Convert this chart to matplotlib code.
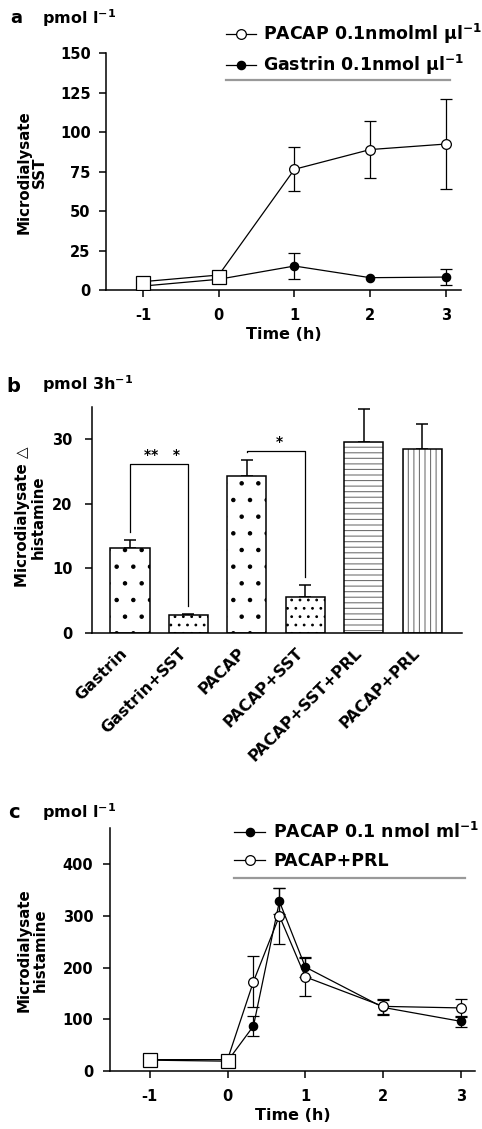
import matplotlib
matplotlib.use('Agg')
import matplotlib.pyplot as plt
from matplotlib.transforms import ScaledTranslation
import numpy as np

plt.rcParams['font.family'] = ['DejaVu Sans']
plt.rcParams['font.weight'] = 'bold'
plt.rcParams['axes.labelweight'] = 'bold'
plt.rcParams['axes.unicode_minus'] = False
plt.rcParams['mathtext.default'] = 'regular'
plt.rcParams['hatch.linewidth'] = 0.8

W, H = 482, 1129

# panel a: SST
time_a = [-1, 0, 1, 2, 3]
pacap_a = [5.3, 9.5, 76.5, 89, 92.5]
pacap_a_err = [np.nan, np.nan, 14, 18.3, 28.8]
gastrin_a = [2.5, 6.8, 15.2, 7.8, 8.2]
gastrin_a_err = [np.nan, np.nan, 8, np.nan, 5]
base_time_a = [-1, 0]
base_a = [4.4, 8.0]

# panel b: histamine per 3 h
groups_b = ['Gastrin', 'Gastrin+SST', 'PACAP', 'PACAP+SST', 'PACAP+SST+PRL', 'PACAP+PRL']
hist_b = [13.2, 2.8, 24.3, 5.5, 29.5, 28.4]
hist_b_err = [1.2, 0.2, 2.5, 1.9, 5.1, 3.9]
hatches_b = ['.', '..', '.', '..', '---', '|||']
hatch_col_b = ['k', 'k', 'k', 'k', '0.45', '0.45']
sig_pairs = [(0, 1), (2, 3)]
sig_top = [26.1, 28.2]
sig_text = ['**   *', '*']

# panel c: histamine
time_c = [-1, 0, 1/3, 2/3, 1, 2, 3]
pacap_c = [21, 19, 87, 328, 201, 123, 96]
pacap_c_err = [np.nan, np.nan, 20, 25, 20, 14, 10]
prl_c = [22, 22, 173, 300, 182, 125, 122]
prl_c_err = [np.nan, np.nan, 49, 54, 36, 15, 18]
base_time_c = [-1, 0]
base_c = [21, 20]

SUP = '$^{-1}$'


def box(l, r, t, b):
    return [l / W, 1 - b / H, (r - l) / W, (b - t) / H]


def style(ax):
    for s in ['top', 'right']:
        ax.spines[s].set_visible(False)
    for s in ['left', 'bottom']:
        ax.spines[s].set_linewidth(1.1)
    ax.tick_params(direction='out', length=5, width=1.1, labelsize=10.5)


fig = plt.figure(figsize=(W / 100, H / 100), dpi=100)

lkw = dict(color='k', lw=0.9, capsize=4.3, elinewidth=0.9, capthick=0.9, mew=0.9, mec='k')

# ---- a ----
ax = fig.add_axes(box(106, 461, 53.3, 290))
style(ax)
ep = ax.errorbar(time_a, pacap_a, yerr=pacap_a_err, marker='o', ms=7, mfc='white', zorder=3, **lkw)
eg = ax.errorbar(time_a, gastrin_a, yerr=gastrin_a_err, marker='o', ms=6, mfc='k', zorder=3, **lkw)
ax.plot(base_time_a, base_a, ls='none', marker='s', ms=9.5, mfc='white', mec='k', mew=0.9, zorder=4)
ax.plot([0.1, 3.05], [133, 133], color='0.6', lw=1.6, clip_on=False)
ax.set_xlim(-1.49, 3.2)
ax.set_ylim(0, 150)
ax.set_yticks([0, 25, 50, 75, 100, 125, 150])
ax.set_xticks([-1, 0, 1, 2, 3])
ax.tick_params(axis='y', pad=6)
ax.tick_params(axis='x', pad=8)
ax.set_xlabel('Time (h)', fontsize=11.5, labelpad=3)
ax.legend([ep[0], eg[0]], ['PACAP 0.1nmolml μl' + SUP, 'Gastrin 0.1nmol μl' + SUP],
          loc='upper left', bbox_to_anchor=(226 / W, 1 - 22 / H), bbox_transform=fig.transFigure,
          frameon=False, fontsize=12.5, handlelength=1.7, handletextpad=0.45,
          labelspacing=0.4, borderpad=0, borderaxespad=0)
fig.text(32 / W, 1 - 172 / H, 'Microdialysate\nSST', rotation=90, ha='center', va='center',
         fontsize=10.8, multialignment='center', linespacing=1.05)
fig.text(10 / W, 1 - 18 / H, 'a', fontsize=13, va='center')
fig.text(42 / W, 1 - 18 / H, 'pmol l' + SUP, fontsize=11.5, va='center')

# ---- b ----
ax = fig.add_axes(box(92, 462, 406.5, 633))
style(ax)
x = np.arange(len(groups_b))
for i in range(len(x)):
    ax.bar(x[i], hist_b[i], 0.67, color='white', edgecolor=hatch_col_b[i], hatch=hatches_b[i], lw=0, zorder=2)
ax.bar(x, hist_b, 0.67, fill=False, edgecolor='k', lw=1.1, zorder=3)
ax.errorbar(x, hist_b, yerr=[np.zeros(len(x)), hist_b_err], fmt='none', ecolor='k',
            elinewidth=1.1, capsize=4.3, capthick=1.1, zorder=1)
for (i, j), top, txt in zip(sig_pairs, sig_top, sig_text):
    yi = hist_b[i] + hist_b_err[i] + 1.2
    yj = hist_b[j] + hist_b_err[j] + 1.2
    ax.plot([x[i], x[i], x[j], x[j]], [yi, top, top, yj], color='k', lw=0.9, zorder=4)
    ax.text((x[i] + x[j]) / 2 + 0.05, top + 0.3, txt, ha='center', va='bottom', fontsize=10)
ax.set_xlim(-0.65, 5.68)
ax.set_ylim(0, 35)
ax.set_yticks([0, 10, 20, 30])
ax.tick_params(axis='y', pad=9)
ax.set_xticks(x, groups_b, rotation=45, ha='right', rotation_mode='anchor')
ax.tick_params(axis='x', length=0, pad=9, labelsize=11.5)
shift = ScaledTranslation(-0.1, 0, fig.dpi_scale_trans)
for lab in ax.get_xticklabels():
    lab.set_transform(lab.get_transform() + shift)
fig.text(30 / W, 1 - 517 / H, 'Microdialysate \u25b3\nhistamine', rotation=90, ha='center',
         va='center', fontsize=10.8, multialignment='center', linespacing=1.05)
fig.text(6 / W, 1 - 386 / H, 'b', fontsize=14, va='center')
fig.text(42 / W, 1 - 384 / H, 'pmol 3h' + SUP, fontsize=11.5, va='center')

# ---- c ----
ax = fig.add_axes(box(110, 475, 828, 1071))
style(ax)
ec1 = ax.errorbar(time_c, pacap_c, yerr=pacap_c_err, marker='o', ms=6, mfc='k', zorder=3, **lkw)
ec2 = ax.errorbar(time_c, prl_c, yerr=prl_c_err, marker='o', ms=7, mfc='white', zorder=3, **lkw)
ax.plot(base_time_c, base_c, ls='none', marker='s', ms=9.5, mfc='white', mec='k', mew=0.9, zorder=4)
ax.plot([0.08, 3.05], [373, 373], color='0.6', lw=1.6, clip_on=False)
ax.set_xlim(-1.51, 3.18)
ax.set_ylim(0, 470)
ax.set_yticks([0, 100, 200, 300, 400])
ax.set_xticks([-1, 0, 1, 2, 3])
ax.tick_params(axis='y', pad=7)
ax.tick_params(axis='x', pad=8)
ax.set_xlabel('Time (h)', fontsize=11.5, labelpad=3)
ax.legend([ec1[0], ec2[0]], ['PACAP 0.1 nmol ml' + SUP, 'PACAP+PRL'],
          loc='upper left', bbox_to_anchor=(234 / W, 1 - 822 / H), bbox_transform=fig.transFigure,
          frameon=False, fontsize=12.5, handlelength=1.8, handletextpad=0.45,
          labelspacing=0.55, borderpad=0, borderaxespad=0)
fig.text(32 / W, 1 - 950 / H, 'Microdialysate\nhistamine', rotation=90, ha='center', va='center',
         fontsize=10.8, multialignment='center', linespacing=1.05)
fig.text(8 / W, 1 - 813 / H, 'c', fontsize=14, va='center')
fig.text(42 / W, 1 - 812 / H, 'pmol l' + SUP, fontsize=11.5, va='center')

fig.savefig('out.png', dpi=100)
